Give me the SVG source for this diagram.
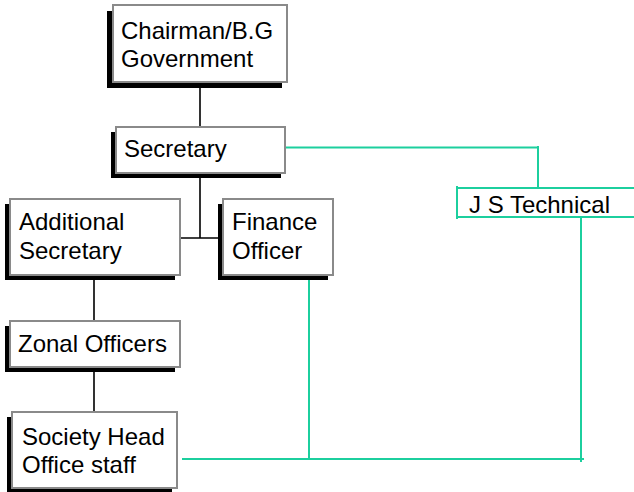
<svg xmlns="http://www.w3.org/2000/svg" width="634" height="492" viewBox="0 0 634 492">
<style>
.shadow{fill:#000}
.box{fill:#fff;stroke:#8a8a8a;stroke-width:2}
.t{font-family:"Liberation Sans",Arial,sans-serif;font-size:24px;fill:#000}
.blk{stroke:#000;stroke-width:1.6;fill:none}
.grn{stroke:#1ccf9e;stroke-width:2;fill:none}
</style>
<rect width="634" height="492" fill="#fff"/>
<g id="connectors">
<path class="blk" d="M200 82V127M200 173V238M180 238H223M94 275V321M94 367V412"/>
<path class="grn" d="M285 147.5H538M538 146V188M581 217V462M309 280V459M182 459H584"/>
</g>
<g id="chairman">
<rect class="shadow" x="107" y="11" width="175" height="77"/>
<rect class="box" x="113" y="5" width="174" height="77"/>
<text class="t" x="121" y="39">Chairman/B.G</text>
<text class="t" x="121" y="67">Government</text>
</g>
<g id="secretary">
<rect class="shadow" x="111" y="132" width="170" height="46"/>
<rect class="box" x="116" y="127" width="169" height="46"/>
<text class="t" x="124" y="157">Secretary</text>
</g>
<g id="js-technical">
<path class="grn" d="M457 188H634M457 217H634M457 186V219"/>
<text class="t" x="469" y="213">J S Technical</text>
</g>
<g id="additional-secretary">
<rect class="shadow" x="5" y="204" width="170" height="76"/>
<rect class="box" x="10" y="199" width="170" height="76"/>
<text class="t" x="19" y="230">Additional</text>
<text class="t" x="19" y="259">Secretary</text>
</g>
<g id="finance-officer">
<rect class="shadow" x="218" y="204" width="110" height="76"/>
<rect class="box" x="223" y="199" width="110" height="76"/>
<text class="t" x="232" y="230">Finance</text>
<text class="t" x="232" y="259">Officer</text>
</g>
<g id="zonal-officers">
<rect class="shadow" x="5" y="326" width="170" height="46"/>
<rect class="box" x="10" y="321" width="170" height="46"/>
<text class="t" x="18" y="352">Zonal Officers</text>
</g>
<g id="society-head-office-staff">
<rect class="shadow" x="7" y="417" width="165" height="75"/>
<rect class="box" x="12" y="412" width="165" height="76"/>
<text class="t" x="22" y="445">Society Head</text>
<text class="t" x="22" y="473">Office staff</text>
</g>
</svg>
